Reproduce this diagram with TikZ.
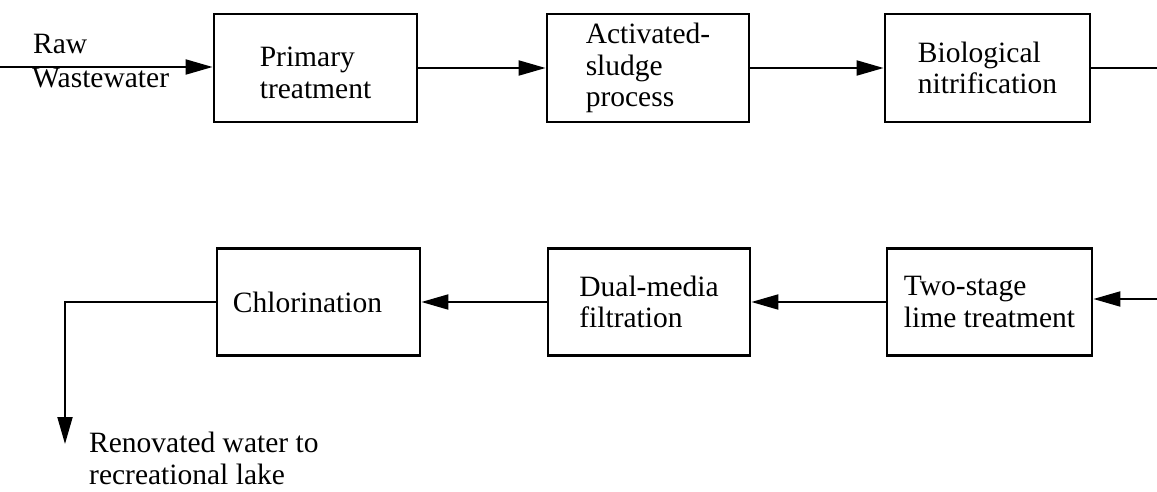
\documentclass[tikz,border=0pt]{standalone}
\usepackage{fontspec}
\setmainfont{Liberation Serif}
\usetikzlibrary{arrows.meta}
\begin{document}
\begin{tikzpicture}[x=1pt,y=-1pt,
  every node/.style={font=\fontsize{29.5}{31.5}\selectfont},
  procbox/.style={draw, line width=2.8pt, minimum width=#1, inner sep=0pt, align=left},
  procbox/.default=203pt,
  conn/.style={line width=2pt},
  arr/.style={conn, -{Triangle[length=27pt,width=15pt]}},
  lbl/.style={inner sep=0pt}
]
\useasboundingbox (0,0) rectangle (1157,492);
% row 1
\node[procbox=203pt, minimum height=108pt] (prim) at (315.5,68) {\raisebox{-8pt}[\height][\depth]{\begin{tabular}{@{}l@{}}Primary\\treatment\end{tabular}}};
\node[procbox=202pt, minimum height=108pt] (act) at (648,68) {Activated-\\sludge\\process};
\node[procbox=205pt, minimum height=108pt] (bio) at (987.5,68) {Biological\\nitrification};
% row 2
\node[draw, line width=2.8pt, minimum width=203pt, minimum height=107pt, inner sep=0pt] (chl) at (318.5,302) {Chlorination\kern22pt};
\node[procbox=202pt, minimum height=107pt] (dual) at (649,302) {Dual-media\\filtration};
\node[procbox=205pt, minimum height=107pt] (lime) at (989.5,302) {Two-stage\\lime treatment};
% labels
\node[lbl, anchor=base west] (raw) at (33,54) {Raw};
\node[lbl, anchor=base west] (ww) at (32,88) {Wastewater};
\node[lbl, anchor=north west, align=left] (reno) at (89,432) {Renovated water to\\recreational lake};
% coordinates
\coordinate (in) at (0,67);
\coordinate (outR) at (1157,66);
\coordinate (inR) at (1157,299);
\coordinate (bend) at (65,302);
\coordinate (end) at (65,444);
% connectors
\draw[arr] (in) -- (in -| prim.west);
\draw[arr] (prim.east) -- (act.west);
\draw[arr] (act.east) -- (bio.west);
\draw[conn] (bio.east) -- (bio.east -| outR);
\draw[arr] (inR) -- (inR -| lime.east);
\draw[arr] (lime.west) -- (dual.east);
\draw[arr] (dual.west) -- (chl.east);
\draw[arr] (chl.west) -- (bend) -- (end);
\end{tikzpicture}
\end{document}
